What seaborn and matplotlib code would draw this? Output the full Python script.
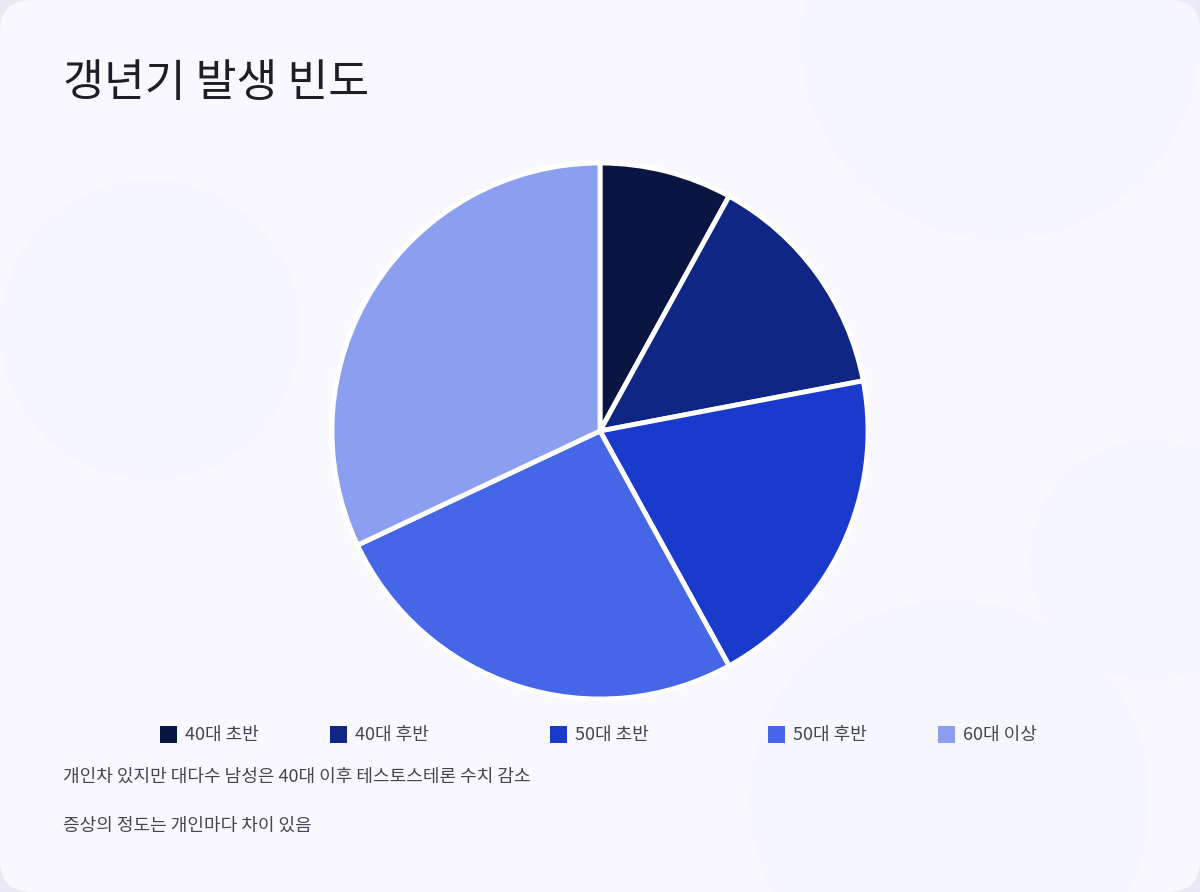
import matplotlib
matplotlib.use("Agg")
import matplotlib.pyplot as plt
import seaborn as sns
from matplotlib.patches import FancyBboxPatch, Rectangle, Circle

categories = ["40대 초반", "40대 후반", "50대 초반", "50대 후반", "60대 이상"]
values = [8, 14, 20, 26, 32]
colors = ["#0a1641", "#0f2685", "#1a3acb", "#4666e8", "#8b9ef0"]
title = "갱년기 발생 빈도"
notes = ["개인차 있지만 대다수 남성은 40대 이후 테스토스테론 수치 감소",
         "증상의 정도는 개인마다 차이 있음"]

sns.set_theme(style="white")
plt.rcParams['font.family'] = ['Noto Sans CJK KR', 'DejaVu Sans']

W, H = 1200, 892
fig = plt.figure(figsize=(12, 8.92), dpi=100)
fig.patch.set_facecolor("#e9e9ef")

# background card
bg = fig.add_axes([0, 0, 1, 1])
bg.set_xlim(0, W); bg.set_ylim(H, 0); bg.axis("off")
bg.add_patch(FancyBboxPatch((0, 0), W, H, boxstyle="round,pad=0,rounding_size=32",
                            fc="#f8f8fe", ec="none"))
for (cx, cy, r) in [(150, 330, 150), (1000, 40, 200), (1150, 560, 120), (950, 800, 200)]:
    bg.add_patch(Circle((cx, cy), r, fc="#f4f5fb", ec="none", alpha=0.3))

# title
fig.text(63 / W, 1 - 83 / H, title, fontsize=32, color="#1e1e2a", va="center", ha="left")

# pie
cx, cy, R = 600, 431, 268
ax = fig.add_axes([(cx - R) / W, 1 - (cy + R) / H, 2 * R / W, 2 * R / H])
ax.pie(values, colors=colors, startangle=90, counterclock=False,
       wedgeprops=dict(edgecolor="white", linewidth=3.5))
ax.set_xlim(-1, 1); ax.set_ylim(-1, 1)
ax.set_aspect("equal")
ax.axis("off")

# legend
leg_x = [160, 330, 550, 768, 938]
for x, lab, col in zip(leg_x, categories, colors):
    bg.add_patch(Rectangle((x, 726), 17, 17, fc=col, ec="none"))
    bg.text(x + 25, 735, lab, fontsize=13, color="#444455", va="center", ha="left")

# notes
for y, t in zip([777, 826], notes):
    bg.text(63, y, t, fontsize=13, color="#444455", va="center", ha="left")

fig.savefig("out.png", dpi=100, facecolor=fig.get_facecolor())
